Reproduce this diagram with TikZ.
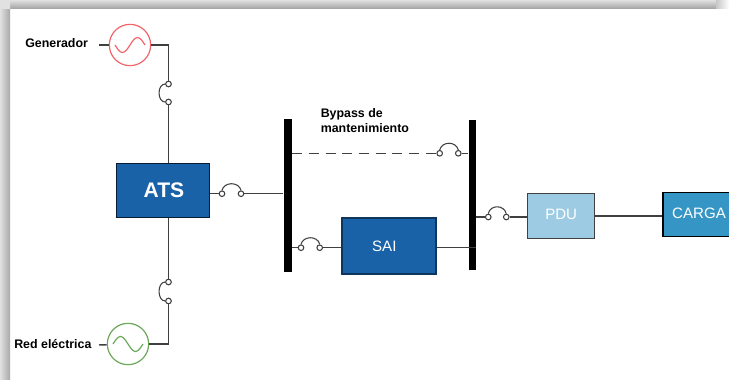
\documentclass[tikz,border=0pt]{standalone}
\usepackage{fontspec}
\setmainfont{Liberation Sans}
\usepackage{tikz}
\usetikzlibrary{calc}
\definecolor{azulats}{HTML}{1A62A8}
\definecolor{azulpdu}{HTML}{9CCBE3}
\definecolor{azulcarga}{HTML}{3596C5}
\definecolor{linea}{HTML}{404040}
\definecolor{rojogen}{HTML}{F2656B}
\definecolor{verdered}{HTML}{6BA85A}
\definecolor{sombra}{HTML}{A8A8A8}
\tikzset{
  wire/.style={draw=linea,line width=1.1pt},
  contact/.style={circle,draw=linea,fill=white,line width=0.8pt,inner sep=0pt,minimum size=4.2pt},
  swarc/.style={draw=linea,line width=0.8pt},
  busbar/.style={rectangle,fill=black,inner sep=0pt},
  block/.style={rectangle,draw=#1,line width=0.9pt,inner sep=0pt,text=white},
  source/.style={circle,draw=#1,fill=white,line width=0.9pt,inner sep=0pt,minimum size=31pt},
  rotulo/.style={font=\fontsize{9.3pt}{11.25pt}\selectfont\bfseries,inner sep=0pt,align=left}
}
\begin{document}
\begin{tikzpicture}[x=0.75pt,y=-0.75pt]
  \useasboundingbox (0,0) rectangle (729,379);
  \shade[top color=sombra!35,bottom color=sombra] (10,0) rectangle (716,8);
  \shade[left color=sombra!35,right color=sombra] (0,8) rectangle (10,379);
  \shade[left color=sombra!35,right color=sombra!35] (0,0) rectangle (10,8);
  \shade[left color=sombra!65,right color=white] (716,0) rectangle (729,8);
  % fuentes
  \node[source=rojogen](gen)at(130,45){};
  \draw[rojogen,line width=0.9pt,shift={(130,45)}] (-15,0) sin (-7.5,7.5) cos (0,0) sin (7.5,-7.5) cos (15,0);
  \node[source=verdered](red)at(128,344){};
  \draw[verdered,line width=0.9pt,shift={(128,344)}] (-15,0) sin (-7.5,-7.5) cos (0,0) sin (7.5,7.5) cos (15,0);
  \node[rotulo,anchor=west](lblgen)at(25,43.5){Generador};
  \node[rotulo,anchor=west](lblred)at(14,344.5){Red eléctrica};
  \coordinate(stubgen)at(99,45);
  \coordinate(stubred)at(99,345);
  \draw[wire](stubgen)--(gen);
  \draw[wire](stubred)--(red);
  % bloques
  \node[block=black!70!azulats,fill=azulats,minimum width=70pt,minimum height=41pt,font=\fontsize{15.8pt}{15.8pt}\selectfont\bfseries](ats)at(163,190.5){\hspace*{1.5pt}ATS};
  \node[block=black!45!azulats,fill=azulats,minimum width=70.5pt,minimum height=42pt,font=\fontsize{11.3pt}{11.3pt}\selectfont](sai)at(389,246){\hspace*{-7pt}SAI};
  \node[block=linea,fill=azulpdu,minimum width=50pt,minimum height=33.5pt,font=\fontsize{11.3pt}{11.3pt}\selectfont](pdu)at(561.2,215.8){\raisebox{2pt}{PDU}};
  \node[block=black,fill=azulcarga,minimum width=60pt,minimum height=33pt,anchor=west,font=\fontsize{11.3pt}{11.3pt}\selectfont,text width=60pt,align=left,inner sep=0pt](carga)at(662.3,214.5){\hspace*{7pt}\raisebox{1.5pt}{CARGA}};
  \node[busbar,minimum width=6.3pt,minimum height=115pt](busa)at(287.7,195.5){};
  \node[busbar,minimum width=5.5pt,minimum height=112.5pt](busb)at(472.3,195){};
  % contactos
  \node[contact](gena)at(168.5,84){};
  \node[contact](genb)at(168.5,102){};
  \node[contact](reda)at(168.5,282){};
  \node[contact](redb)at(168.5,301){};
  \node[contact](atsa)at(222,193.7){};
  \node[contact](atsb)at(241,193.7){};
  \node[contact](byca)at(439.7,153.3){};
  \node[contact](bycb)at(458.3,153.3){};
  \node[contact](saia)at(301,247.7){};
  \node[contact](saib)at(319.7,247.7){};
  \node[contact](pdua)at(488.3,217){};
  \node[contact](pdub)at(506.3,217){};
  \node[rotulo,anchor=north west](lblby)at(320.5,108){Bypass de\\mantenimiento};
  % conexiones
  \draw[wire](gen)-|(gena);
  \draw[wire](genb)--(ats.north -| genb);
  \draw[wire](ats.south -| reda)--(reda);
  \draw[wire](redb)|-(red);
  \draw[wire](ats.east |- atsa)--(atsa);
  \draw[wire](atsb)--(busa.west |- atsb);
  \draw[wire,dash pattern=on 7.5pt off 5pt](busa.east |- byca)--(byca);
  \draw[wire](bycb)--(busb.west |- bycb);
  \draw[wire](busa.east |- saia)--(saia);
  \draw[wire](saib)--(sai.west |- saib);
  \draw[wire](sai.east |- saib)--(busb.east |- saib);
  \draw[wire](busb.east |- pdua)--(pdua);
  \draw[wire](pdub)--(pdu.west |- pdub);
  \draw[wire](pdu.east |- pdu)--(carga.west |- pdu);
  % arcos
  \draw[swarc](gena.west) .. controls (157,84) and (157,102) .. (genb.west);
  \draw[swarc](reda.west) .. controls (157,282) and (157,301) .. (redb.west);
  \draw[swarc](atsa.north) .. controls (224,181.5) and (239,181.5) .. (atsb.north);
  \draw[swarc](byca.north) .. controls (442,141) and (456,141) .. (bycb.north);
  \draw[swarc](saia.north) .. controls (303,235.5) and (318,235.5) .. (saib.north);
  \draw[swarc](pdua.north) .. controls (490,204.5) and (504,204.5) .. (pdub.north);
\end{tikzpicture}
\end{document}
